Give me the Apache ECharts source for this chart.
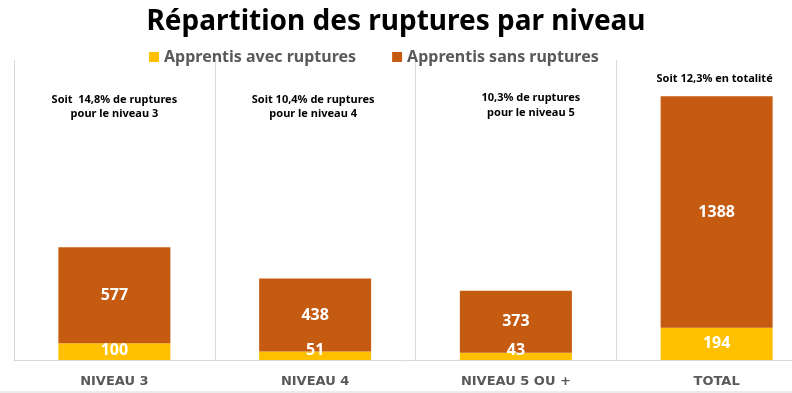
<!DOCTYPE html>
<html><head><meta charset="utf-8">
<script src="https://cdn.jsdelivr.net/npm/echarts@6/dist/echarts.min.js"></script>
<style>html,body{margin:0;padding:0;background:#fff}#c{width:792px;height:393px}</style>
</head><body><div id="c"></div>
<script>
const categories = ['NIVEAU 3', 'NIVEAU 4', 'NIVEAU 5 OU +', 'TOTAL'];
const avecRuptures = [100, 51, 43, 194];
const sansRuptures = [577, 438, 373, 1388];
const seriesNames = ['Apprentis avec ruptures', 'Apprentis sans ruptures'];
const annotations = [
  ['Soit  14,8% de ruptures', 'pour le niveau 3'],
  ['Soit 10,4% de ruptures', 'pour le niveau 4'],
  ['10,3% de ruptures', 'pour le niveau 5'],
  ['Soit 12,3% en totalité']
];

const FONT = '"Noto Sans", sans-serif';
const YMAX = 1800, GRID_TOP = 60, GRID_BOTTOM = 33, H = 393 - GRID_TOP - GRID_BOTTOM;
const pxPerUnit = H / YMAX;

const chart = echarts.init(document.getElementById('c'));
const labelBase = { show: true, color: '#fff', fontFamily: FONT, fontWeight: 'bold', fontSize: 16 };

const yellowData = avecRuptures.map(v => {
  const h = v * pxPerUnit;
  const off = -Math.max(0, 10 - h / 2);
  return { value: v, label: { offset: [0, off] } };
});

chart.setOption({
  animation: false,
  title: {
    text: 'Répartition des ruptures par niveau',
    left: 'center', top: 3,
    textStyle: { fontFamily: FONT, fontWeight: 'bold', fontSize: 28, color: '#000' }
  },
  legend: {
    top: 44, left: 144, itemWidth: 10, itemHeight: 10, itemGap: 36,
    icon: 'rect',
    textStyle: { fontFamily: FONT, fontWeight: 'bold', fontSize: 16, color: '#595959' },
    data: seriesNames
  },
  grid: { left: 14, right: -25, top: GRID_TOP, bottom: GRID_BOTTOM, outerBoundsMode: 'none', containLabel: false },
  xAxis: {
    type: 'category', data: categories,
    axisLine: { lineStyle: { color: '#d9d9d9' } },
    axisTick: { show: false },
    splitLine: { show: true, interval: 0, lineStyle: { color: '#d9d9d9' } },
    axisLabel: { margin: 15, color: '#595959', fontFamily: '"DejaVu Sans", sans-serif', fontWeight: 'bold', fontSize: 13 }
  },
  yAxis: { type: 'value', min: 0, max: YMAX, show: false, splitLine: { show: false } },
  series: [
    { name: seriesNames[0], type: 'bar', stack: 's', barWidth: 112, itemStyle: { color: '#FFC000' },
      label: Object.assign({ position: 'inside' }, labelBase), data: yellowData },
    { name: seriesNames[1], type: 'bar', stack: 's', barWidth: 112, itemStyle: { color: '#C55A11' },
      label: Object.assign({ position: 'inside' }, labelBase), data: sansRuptures }
  ]
});

const annY = [[100, 114], [100, 114], [98, 113], [79]];
const annDx = [0, -2, 15, -2];
const graphics = [];
annotations.forEach((lines, i) => {
  const cx = chart.convertToPixel({ xAxisIndex: 0 }, categories[i]);
  lines.forEach((t, j) => {
    graphics.push({ type: 'text', x: cx + annDx[i], y: annY[i][j],
      style: { text: t, fill: '#000', font: 'bold 11px ' + FONT, textAlign: 'center', textVerticalAlign: 'middle' } });
  });
});
graphics.push({ type: 'line', shape: { x1: 0, y1: 392, x2: 792, y2: 392 }, style: { stroke: '#d9d9d9', lineWidth: 1 } });
chart.setOption({ graphic: graphics });
</script></body></html>
